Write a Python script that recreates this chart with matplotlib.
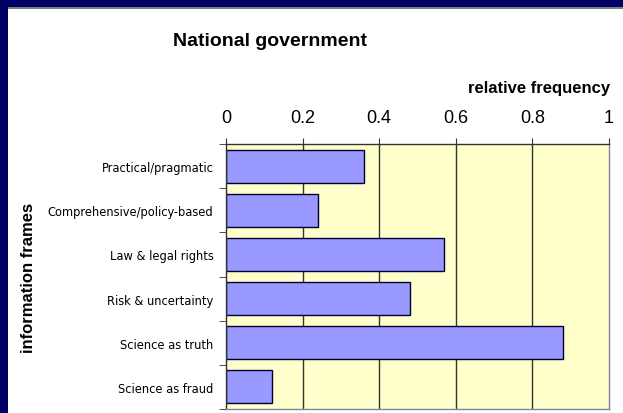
import matplotlib
matplotlib.use('Agg')
import matplotlib.pyplot as plt
from matplotlib.patches import Rectangle
import numpy as np

plt.rcParams['font.family'] = ['Liberation Sans', 'DejaVu Sans']

# data
frames = ['Practical/pragmatic', 'Comprehensive/policy-based', 'Law & legal rights',
          'Risk & uncertainty', 'Science as truth', 'Science as fraud']
freq = [0.36, 0.24, 0.57, 0.48, 0.88, 0.12]
xticks = [0, 0.2, 0.4, 0.6, 0.8, 1]
xticklabels = ['0', '0.2', '0.4', '0.6', '0.8', '1']

W, H = 623, 414
fig = plt.figure(figsize=(W / 100, H / 100), dpi=100)
fig.patch.set_facecolor('white')

# navy frame (left + top)
navy = '#000066'
fig.patches.append(Rectangle((0, 0), 8 / W, 1, transform=fig.transFigure,
                             facecolor=navy, edgecolor='none', zorder=0))
fig.patches.append(Rectangle((0, 1 - 8 / H), 1, 8 / H, transform=fig.transFigure,
                             facecolor=navy, edgecolor='none', zorder=0))
fig.patches.append(Rectangle((8 / W, 1 - 9.5 / H), 1, 1.5 / H, transform=fig.transFigure,
                             facecolor='#808080', edgecolor='none', zorder=0))

ax = fig.add_axes([226 / W, 1 - 410 / H, (609 - 226) / W, (410 - 145) / H])
ax.set_facecolor('#FFFFCC')

y = np.arange(len(frames))
ax.barh(y, freq, height=0.75, color='#9999FF', edgecolor='#000033', linewidth=1, zorder=3)

ax.set_xlim(0, 1)
ax.set_ylim(len(frames) - 0.5, -0.5)

for gx in xticks[1:-1]:
    ax.axvline(gx, color='#333333', linewidth=1, zorder=1)

ax.xaxis.tick_top()
ax.set_xticks(xticks)
ax.set_xticklabels(xticklabels, fontsize=13)
ax.tick_params(axis='x', direction='out', length=4, pad=9, color='#333333')

ax.set_yticks(y)
ax.set_yticklabels(frames, fontsize=9.2, family='DejaVu Sans', fontstretch='condensed')
ax.set_yticks(np.arange(len(frames) + 1) - 0.5, minor=True)
ax.tick_params(axis='y', which='major', length=0, pad=9)
ax.tick_params(axis='y', which='minor', direction='out', length=5, color='#333333')

ax.spines['left'].set_color('#333333')
ax.spines['top'].set_color('#333333')
ax.spines['right'].set_color('#8080A8')
ax.spines['bottom'].set_color('#8080A8')
for s in ax.spines.values():
    s.set_linewidth(1)
    s.set_zorder(4)

fig.text(270 / W, 1 - 42 / H, 'National government', ha='center', va='center',
         fontsize=14, fontweight='bold')
fig.text(610 / W, 1 - 88 / H, 'relative frequency', ha='right', va='center',
         fontsize=12, fontweight='bold')
fig.text(29 / W, 1 - 278 / H, 'information frames', ha='center', va='center',
         fontsize=12, fontweight='bold', rotation=90)

fig.savefig('out.png', dpi=100)
